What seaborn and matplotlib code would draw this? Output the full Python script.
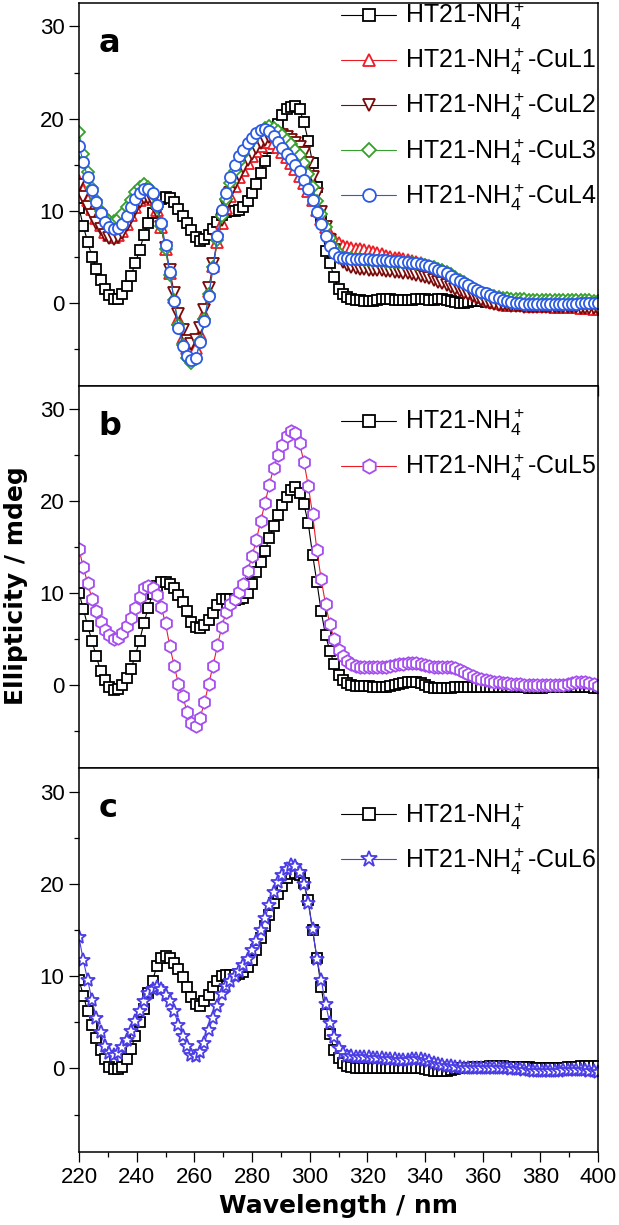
import numpy as np
import matplotlib
matplotlib.use("Agg")
import matplotlib.pyplot as plt
import seaborn as sns
from matplotlib.ticker import MultipleLocator

# ---------------- data (wavelength grid: 220..400 nm, 1.5 nm step) ----------------
wl_start, wl_step = 220.0, 1.5

black_a = [10.3, 8.3, 6.6, 5.0, 3.7, 2.5, 1.5, 0.8, 0.4, 0.4,
           0.9, 1.8, 2.9, 4.3, 5.7, 7.3, 8.7, 9.7, 10.7, 11.3,
           11.5, 11.4, 10.9, 10.2, 9.4, 8.7, 7.9, 7.1, 6.7, 6.9,
           7.4, 8.0, 8.8, 9.5, 9.9, 10.0, 10.0, 10.1, 10.4, 11.0,
           11.9, 12.9, 14.1, 15.4, 16.8, 18.1, 19.4, 20.4, 21.0, 21.3,
           21.4, 21.0, 19.6, 17.6, 15.2, 12.6, 9.0, 5.6, 4.3, 2.8,
           1.5, 0.9, 0.6, 0.4, 0.3, 0.3, 0.2, 0.2, 0.2, 0.3,
           0.4, 0.4, 0.4, 0.3, 0.3, 0.3, 0.3, 0.3, 0.4, 0.4,
           0.4, 0.3, 0.3, 0.4, 0.4, 0.3, 0.2, 0.1, 0.0, 0.0,
           0.1, 0.2, 0.2, 0.2, 0.1, 0.1, 0.0, 0.0, -0.1, -0.1,
           0.0, 0.0, 0.1, 0.0, -0.1, -0.1, -0.2, -0.1, 0.0, 0.0,
           -0.1, -0.1, 0.0, 0.1, 0.0, -0.1, -0.2, -0.2, -0.1, 0.0,
           0.0]

cul1_a = [13.2, 12.2, 11.2, 10.2, 9.2, 8.4, 7.7, 7.3, 7.1, 7.3,
          7.8, 8.6, 9.5, 10.4, 11.1, 11.6, 11.7, 11.3, 10.1, 8.2,
          5.8, 3.2, 0.6, -1.8, -3.8, -4.9, -5.3, -4.9, -3.4, -1.2,
          1.3, 4.0, 6.6, 8.7, 10.3, 11.6, 12.7, 13.6, 14.4, 15.2,
          15.9, 16.5, 17.0, 17.4, 17.5, 17.3, 16.9, 16.4, 15.8, 15.2,
          14.5, 13.8, 13.0, 12.1, 11.1, 10.1, 9.1, 8.2, 7.5, 6.9,
          6.5, 6.2, 6.0, 5.9, 5.8, 5.8, 5.7, 5.6, 5.5, 5.4,
          5.3, 5.1, 5.0, 4.9, 4.8, 4.7, 4.6, 4.5, 4.4, 4.3,
          4.1, 3.9, 3.7, 3.5, 3.2, 2.9, 2.6, 2.3, 2.0, 1.7,
          1.4, 1.1, 0.8, 0.6, 0.4, 0.2, 0.1, 0.0, -0.1, -0.2,
          -0.2, -0.3, -0.3, -0.3, -0.4, -0.4, -0.4, -0.4, -0.4, -0.4,
          -0.5, -0.5, -0.5, -0.5, -0.5, -0.5, -0.6, -0.6, -0.6, -0.7,
          -0.7]

cul2_a = [12.8, 11.5, 10.4, 9.5, 8.7, 8.0, 7.4, 7.0, 6.9, 7.1,
          7.6, 8.4, 9.3, 10.2, 10.9, 11.4, 11.4, 11.0, 9.9, 8.2,
          5.9, 3.5, 1.1, -1.2, -3.0, -4.2, -4.5, -4.1, -2.8, -0.8,
          1.6, 4.2, 6.8, 9.0, 10.6, 11.9, 13.0, 13.9, 14.7, 15.5,
          16.2, 16.8, 17.3, 17.7, 18.0, 18.2, 18.3, 18.2, 18.0, 17.7,
          17.3, 16.9, 16.3, 15.2, 13.6, 11.8, 9.9, 8.2, 6.8, 5.7,
          4.9, 4.4, 4.1, 3.9, 3.8, 3.7, 3.7, 3.6, 3.6, 3.5,
          3.5, 3.4, 3.4, 3.3, 3.3, 3.2, 3.2, 3.1, 3.0, 2.9,
          2.8, 2.7, 2.5, 2.3, 2.1, 1.9, 1.7, 1.5, 1.3, 1.1,
          0.9, 0.7, 0.5, 0.3, 0.1, 0.0, -0.1, -0.2, -0.3, -0.3,
          -0.4, -0.4, -0.4, -0.5, -0.5, -0.5, -0.5, -0.5, -0.5, -0.5,
          -0.5, -0.5, -0.5, -0.5, -0.5, -0.5, -0.6, -0.6, -0.6, -0.6,
          -0.7]

cul3_a = [18.5, 16.2, 14.2, 12.5, 11.2, 10.0, 9.3, 8.9, 8.9, 9.1,
          9.6, 10.4, 11.2, 12.0, 12.6, 12.9, 12.6, 11.8, 10.4, 8.3,
          5.8, 3.0, 0.3, -2.4, -4.6, -6.0, -6.6, -6.1, -4.2, -1.8,
          0.9, 3.9, 6.8, 9.4, 11.3, 13.0, 14.3, 15.3, 16.2, 17.0,
          17.6, 18.2, 18.7, 19.0, 19.2, 19.0, 18.6, 18.2, 17.7, 17.2,
          16.6, 16.0, 15.2, 14.0, 12.6, 11.0, 9.6, 8.2, 7.0, 6.0,
          5.4, 5.0, 4.8, 4.8, 4.7, 4.7, 4.6, 4.6, 4.5, 4.5,
          4.5, 4.4, 4.4, 4.4, 4.4, 4.3, 4.3, 4.3, 4.2, 4.2,
          4.1, 4.0, 3.9, 3.7, 3.5, 3.3, 3.1, 2.8, 2.5, 2.2,
          1.9, 1.6, 1.3, 1.1, 0.9, 0.8, 0.7, 0.6, 0.5, 0.5,
          0.4, 0.4, 0.4, 0.4, 0.3, 0.3, 0.3, 0.3, 0.3, 0.3,
          0.3, 0.3, 0.3, 0.3, 0.3, 0.3, 0.3, 0.3, 0.3, 0.2,
          0.2]

cul4_a = [17.0, 15.3, 13.6, 12.2, 10.9, 9.7, 8.8, 8.2, 8.0, 8.1,
          8.6, 9.4, 10.4, 11.3, 11.9, 12.3, 12.3, 11.9, 10.6, 8.7,
          6.3, 3.3, 0.2, -2.7, -4.7, -5.8, -6.2, -6.0, -4.3, -2.0,
          0.7, 3.8, 7.2, 10.1, 11.9, 13.7, 15.0, 15.9, 16.6, 17.3,
          17.9, 18.4, 18.8, 18.9, 18.7, 18.1, 17.4, 16.8, 16.2, 15.6,
          15.0, 14.3, 13.3, 12.3, 11.1, 9.8, 8.5, 7.2, 6.2, 5.4,
          5.0, 4.8, 4.8, 4.7, 4.7, 4.7, 4.7, 4.7, 4.6, 4.6,
          4.6, 4.6, 4.5, 4.5, 4.5, 4.4, 4.4, 4.3, 4.3, 4.2,
          4.1, 4.0, 3.8, 3.6, 3.4, 3.2, 2.9, 2.6, 2.4, 2.1,
          1.9, 1.6, 1.4, 1.2, 1.0, 0.8, 0.6, 0.5, 0.3, 0.2,
          0.1, 0.0, 0.0, -0.1, -0.1, -0.1, -0.1, -0.1, -0.1, -0.1,
          -0.1, -0.1, -0.1, -0.1, -0.1, -0.1, 0.0, 0.0, 0.0, 0.0,
          0.0]

black_b = [10.0, 8.3, 6.4, 4.8, 3.1, 1.5, 0.5, -0.2, -0.6, -0.5,
           0.0, 0.8, 1.7, 3.2, 4.8, 6.7, 8.4, 9.9, 10.8, 11.2,
           11.2, 11.0, 10.5, 9.8, 9.0, 8.0, 6.9, 6.3, 6.2, 6.5,
           7.1, 7.8, 8.7, 9.3, 9.4, 9.3, 9.2, 9.3, 9.5, 10.0,
           11.0, 12.3, 13.4, 14.6, 16.0, 17.3, 18.5, 19.6, 20.5, 21.2,
           21.5, 20.9, 19.7, 17.6, 14.2, 11.2, 8.0, 5.4, 3.7, 2.3,
           1.1, 0.5, 0.2, 0.0, -0.1, -0.1, -0.1, -0.1, -0.2, -0.2,
           -0.2, -0.2, -0.1, 0.0, 0.1, 0.2, 0.3, 0.3, 0.3, 0.2,
           0.0, -0.2, -0.3, -0.3, -0.3, -0.3, -0.3, -0.2, -0.2, -0.2,
           -0.2, -0.2, -0.2, -0.2, -0.2, -0.2, -0.2, -0.2, -0.2, -0.2,
           -0.2, -0.2, -0.2, -0.2, -0.3, -0.3, -0.3, -0.3, -0.2, -0.2,
           -0.2, -0.2, -0.2, -0.2, -0.2, -0.2, -0.2, -0.2, -0.2, -0.3,
           -0.3]

cul5_b = [14.8, 12.8, 11.1, 9.4, 8.0, 6.9, 6.0, 5.4, 5.0, 5.1,
          5.6, 6.4, 7.3, 8.4, 9.6, 10.5, 10.8, 10.6, 9.8, 8.5,
          6.7, 4.2, 2.1, 0.1, -1.2, -3.0, -4.2, -4.5, -3.6, -1.9,
          0.1, 2.1, 4.3, 6.3, 7.9, 8.8, 9.4, 10.1, 11.0, 12.4,
          14.0, 15.8, 17.8, 19.8, 21.8, 23.6, 25.0, 26.1, 27.1, 27.7,
          27.4, 26.3, 24.3, 21.7, 18.6, 14.7, 11.5, 8.8, 6.6, 5.0,
          3.8, 3.1, 2.6, 2.3, 2.1, 2.0, 1.9, 1.9, 1.9, 1.9,
          2.0, 2.0, 2.1, 2.2, 2.3, 2.3, 2.4, 2.4, 2.4, 2.3,
          2.2, 2.1, 2.0, 2.0, 2.0, 2.0, 1.9, 1.8, 1.6, 1.4,
          1.2, 1.0, 0.8, 0.6, 0.5, 0.4, 0.3, 0.3, 0.2, 0.2,
          0.1, 0.1, 0.1, 0.0, 0.0, 0.0, 0.0, 0.0, 0.0, 0.0,
          0.0, 0.0, 0.0, 0.1, 0.2, 0.3, 0.3, 0.3, 0.2, 0.1,
          -0.1]

black_c = [9.6, 7.9, 6.2, 4.7, 3.3, 2.0, 1.0, 0.2, -0.1, -0.1,
           0.2, 1.0, 2.1, 3.5, 5.0, 6.4, 8.2, 9.5, 11.1, 12.0,
           12.2, 12.0, 11.4, 10.8, 9.9, 8.8, 7.7, 7.0, 6.8, 7.3,
           8.0, 8.8, 9.5, 10.0, 10.1, 10.1, 10.1, 10.2, 10.4, 11.0,
           11.8, 12.8, 14.1, 15.4, 16.6, 17.9, 18.9, 19.8, 20.6, 21.1,
           21.2, 21.0, 20.1, 18.2, 15.0, 12.0, 8.8, 5.9, 3.7, 2.0,
           1.1, 0.6, 0.3, 0.2, 0.1, 0.1, 0.0, 0.0, 0.0, 0.0,
           0.0, 0.0, 0.0, 0.0, 0.0, 0.0, 0.0, 0.0, 0.0, 0.0,
           -0.1, -0.2, -0.3, -0.3, -0.3, -0.3, -0.2, -0.1, 0.0, 0.1,
           0.1, 0.2, 0.2, 0.2, 0.2, 0.3, 0.3, 0.3, 0.3, 0.2,
           0.2, 0.2, 0.2, 0.2, 0.2, 0.1, 0.1, 0.1, 0.1, 0.1,
           0.1, 0.1, 0.1, 0.2, 0.2, 0.2, 0.3, 0.3, 0.3, 0.3,
           0.3]

cul6_c = [14.2, 11.7, 9.6, 7.4, 5.5, 3.9, 2.4, 1.7, 1.5, 1.7,
          2.3, 3.1, 4.1, 5.1, 6.2, 7.3, 8.2, 8.6, 8.8, 8.6,
          8.0, 7.3, 6.2, 4.7, 3.5, 2.4, 1.5, 1.3, 1.8, 2.8,
          4.2, 5.5, 6.8, 8.1, 8.9, 9.5, 10.0, 10.6, 11.2, 11.9,
          12.8, 13.8, 15.0, 16.3, 17.7, 19.1, 20.2, 21.0, 21.6, 22.0,
          21.9, 21.3, 20.0, 17.9, 15.1, 11.9, 9.6, 7.0, 4.9, 3.4,
          2.2, 1.7, 1.4, 1.3, 1.2, 1.2, 1.2, 1.2, 1.1, 1.1,
          1.1, 1.0, 1.0, 1.0, 0.9, 0.9, 0.9, 1.0, 1.0, 1.0,
          0.9, 0.8, 0.6, 0.5, 0.4, 0.3, 0.3, 0.2, 0.2, 0.1,
          0.1, 0.1, 0.0, 0.0, 0.0, 0.0, 0.0, 0.0, 0.0, 0.0,
          -0.1, -0.1, -0.1, -0.2, -0.2, -0.3, -0.3, -0.3, -0.3, -0.3,
          -0.3, -0.3, -0.2, -0.2, -0.2, -0.2, -0.2, -0.2, -0.3, -0.3,
          -0.4]

base_label = r"HT21-NH$_4^+$"
labels_a = [base_label, base_label + "-CuL1", base_label + "-CuL2",
            base_label + "-CuL3", base_label + "-CuL4"]
label_b = base_label + "-CuL5"
label_c = base_label + "-CuL6"
panel_letters = ["a", "b", "c"]
x_ticks = [220, 240, 260, 280, 300, 320, 340, 360, 380, 400]
y_ticks = [0, 10, 20, 30]

# ---------------- style ----------------
sns.set_theme(style="white")
plt.rcParams["font.family"] = ["Liberation Sans", "DejaVu Sans"]
plt.rcParams["mathtext.fontset"] = "custom"
plt.rcParams["mathtext.rm"] = "Liberation Sans"
plt.rcParams["mathtext.it"] = "Liberation Sans:italic"
plt.rcParams["mathtext.bf"] = "Liberation Sans:bold"
plt.rcParams["axes.unicode_minus"] = False
plt.rcParams["text.color"] = "black"
plt.rcParams["axes.labelcolor"] = "black"
plt.rcParams["xtick.color"] = "black"
plt.rcParams["ytick.color"] = "black"
plt.rcParams["axes.edgecolor"] = "black"

C_BLACK = "#000000"
C_RED = "#ee1c25"
C_DRED = "#7a0a0a"
C_GREEN = "#35a02c"
C_BLUE = "#2b5be6"
C_PURP = "#a54ef0"
C_STAR = "#4a3de6"

fig = plt.figure(figsize=(6.19, 12.25), dpi=100)
left, width = 79 / 619, (598 - 79) / 619
rects = [(3, 386), (386, 768), (768, 1152)]
axes = []
for top, bot in rects:
    ax = fig.add_axes([left, 1 - bot / 1225, width, (bot - top) / 1225])
    axes.append(ax)


def wl_of(vals):
    return wl_start + wl_step * np.arange(len(vals))


def draw(ax, vals, color, marker, ms, label, lcolor=None, mew=1.3):
    sns.lineplot(x=wl_of(vals), y=vals, ax=ax, color=lcolor or color,
                 marker=marker, markersize=ms, markerfacecolor="white",
                 markeredgecolor=color, markeredgewidth=mew, linewidth=0.8,
                 label=label, errorbar=None, sort=False)


# panel a
draw(axes[0], black_a, C_BLACK, "s", 7.0, labels_a[0])
draw(axes[0], cul1_a, C_RED, "^", 8.0, labels_a[1])
draw(axes[0], cul2_a, C_DRED, "v", 8.0, labels_a[2])
draw(axes[0], cul3_a, C_GREEN, "D", 6.3, labels_a[3])
draw(axes[0], cul4_a, C_BLUE, "o", 8.0, labels_a[4])
# panel b
draw(axes[1], black_b, C_BLACK, "s", 7.0, labels_a[0])
draw(axes[1], cul5_b, C_PURP, "h", 9.0, label_b, lcolor=C_RED)
# panel c
draw(axes[2], black_c, C_BLACK, "s", 7.0, labels_a[0])
draw(axes[2], cul6_c, C_STAR, "*", 10.5, label_c)

legend_y = [1.005, 0.945, 0.915]
for i, ax in enumerate(axes):
    ax.set_xlim(220, 400)
    ax.set_ylim(-9.05, 32.55)
    ax.set_xticks(x_ticks)
    ax.set_yticks(y_ticks)
    ax.xaxis.set_minor_locator(MultipleLocator(10))
    ax.yaxis.set_minor_locator(MultipleLocator(5))
    ax.tick_params(axis="both", which="major", direction="out", length=7,
                   width=0.9, labelsize=16, pad=3.5, color="black",
                   labelcolor="black",
                   bottom=True, left=True, top=False, right=False)
    ax.tick_params(axis="both", which="minor", direction="out", length=3.8,
                   width=0.9, color="black",
                   bottom=True, left=True, top=False, right=False)
    for sp in ax.spines.values():
        sp.set_visible(True)
        sp.set_color("black")
        sp.set_linewidth(1.1)
    ax.grid(False)
    ax.set_xlabel("")
    ax.set_ylabel("")
    if i < 2:
        ax.tick_params(axis="x", labelbottom=False)
    ax.text(0.037, 0.872, panel_letters[i], transform=ax.transAxes,
            fontsize=23, fontweight="bold", family="DejaVu Sans",
            color="black", va="baseline", ha="left")
    leg = ax.legend(loc="upper left", bbox_to_anchor=(0.505, legend_y[i]),
                    frameon=False, fontsize=18, numpoints=1, handlelength=2.2,
                    handletextpad=0.35, labelspacing=0.55, borderpad=0,
                    borderaxespad=0, markerscale=1.15)
    for t in leg.get_texts():
        t.set_color("black")

fig.text(16 / 619, 1 - 586 / 1225, "Ellipticity / mdeg", rotation=90,
         fontsize=18, fontweight="bold", family="DejaVu Sans", color="black",
         ha="center", va="center")
fig.text((79 + 598) / 2 / 619, 1 - 1213 / 1225, "Wavelength / nm",
         fontsize=18, fontweight="bold", family="DejaVu Sans", color="black",
         ha="center", va="baseline")

fig.savefig("out.png", dpi=100)
